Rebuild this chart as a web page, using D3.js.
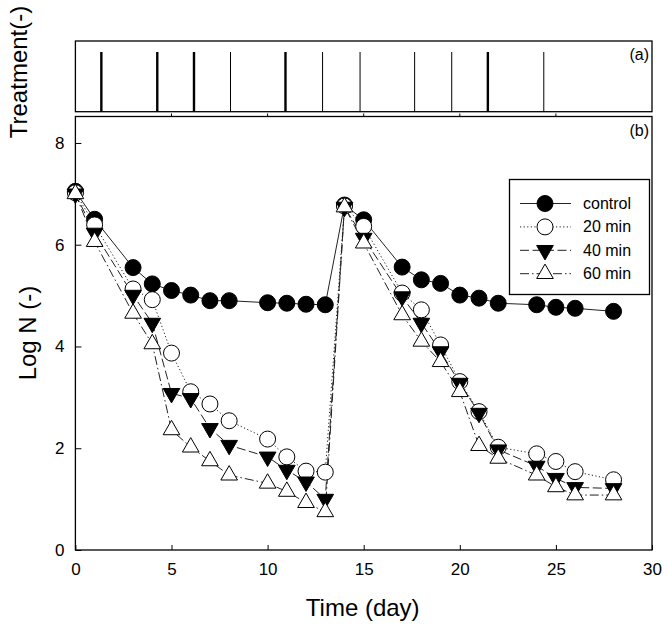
<!DOCTYPE html>
<html><head><meta charset="utf-8">
<script src="https://cdn.jsdelivr.net/npm/d3@7"></script>
<style>body{margin:0;background:#fff}svg{font-family:"Liberation Sans",Arial,sans-serif}</style>
</head><body><svg id="c" width="668" height="631"></svg>
<script>
const days = [0,1,3,4,5,6,7,8,10,11,12,13,14,15,17,18,19,20,21,22,24,25,26,28];
const control = [7.05,6.50,5.55,5.23,5.10,5.01,4.90,4.90,4.86,4.85,4.83,4.82,6.78,6.49,5.56,5.31,5.24,5.01,4.95,4.85,4.82,4.77,4.75,4.69];
const min20 = [7.02,6.39,5.13,4.92,3.87,3.11,2.87,2.54,2.18,1.83,1.55,1.53,6.76,6.36,5.05,4.72,4.03,3.31,2.72,2.02,1.89,1.74,1.54,1.38];
const min40 = [7.00,6.23,5.01,4.46,3.08,2.98,2.39,2.06,1.83,1.57,1.34,1.00,6.74,6.13,4.98,4.46,3.90,3.28,2.69,1.97,1.65,1.41,1.23,1.21];
const min60 = [7.00,6.06,4.65,4.05,2.36,2.02,1.75,1.47,1.31,1.15,0.93,0.75,6.74,6.03,4.62,4.10,3.70,3.11,2.05,1.80,1.47,1.24,1.08,1.08];
const seriesNames = ["control","20 min","40 min","60 min"];
const treatDays = [1.35,4.26,6.17,8.07,10.93,12.86,14.81,17.65,19.58,21.46,24.37];
const treatThick = [1,1,1,0,1,0,0,0,0,1,0];
const xTicks = [0,5,10,15,20,25,30];
const yTicks = [0,2,4,6,8];

const svg = d3.select("#c");
const L = 75.4, R = 652;
const x = d3.scaleLinear().domain([0,30]).range([L,R]);
const y = d3.scaleLinear().domain([0,8.52]).range([550,116.5]);
const topT = 41, topB = 111.7;

// top panel
svg.append("rect").attr("x",L).attr("y",topT).attr("width",R-L).attr("height",topB-topT)
  .attr("fill","none").attr("stroke","#000").attr("stroke-width",1.3);
svg.selectAll("line.tr").data(treatDays).join("line").attr("class","tr")
  .attr("x1",d=>x(d)).attr("x2",d=>x(d)).attr("y1",52).attr("y2",topB)
  .attr("stroke","#000").attr("stroke-width",(d,i)=>treatThick[i]?2.4:1);
svg.append("text").attr("x",649).attr("y",60).attr("text-anchor","end").attr("font-size",16).text("(a)");
svg.append("text").attr("transform","translate(27,72) rotate(-90)").attr("text-anchor","middle").attr("font-size",24).text("Treatment(-)");

// main panel frame
svg.append("rect").attr("x",L).attr("y",y(8.52)).attr("width",R-L).attr("height",550-y(8.52))
  .attr("fill","none").attr("stroke","#000").attr("stroke-width",1.3);
svg.append("text").attr("x",649).attr("y",136).attr("text-anchor","end").attr("font-size",16).text("(b)");

// axes
const xa = svg.append("g").attr("transform","translate(0,550)")
  .call(d3.axisBottom(x).tickValues(xTicks).tickSizeInner(-5).tickSizeOuter(0).tickPadding(13));
xa.select(".domain").remove();
xa.selectAll("text").attr("font-size",17).attr("font-family","Liberation Sans, Arial, sans-serif");
xa.selectAll("line").attr("stroke","#000");
// top ticks of main panel pointing up
svg.selectAll("line.tt").data(xTicks.slice(1,-1)).join("line").attr("class","tt")
  .attr("x1",d=>x(d)).attr("x2",d=>x(d)).attr("y1",y(8.52)).attr("y2",y(8.52)-3).attr("stroke","#000");

const ya = svg.append("g").attr("transform",`translate(${L},0)`)
  .call(d3.axisLeft(y).tickValues(yTicks).tickSizeInner(-6).tickSizeOuter(0).tickPadding(11).tickFormat(d3.format("d")));
ya.select(".domain").remove();
ya.selectAll("text").attr("font-size",17).attr("font-family","Liberation Sans, Arial, sans-serif");
ya.selectAll("line").attr("stroke","#000");

svg.append("text").attr("x",(L+R)/2-1).attr("y",616).attr("text-anchor","middle").attr("font-size",24).text("Time (day)");
svg.append("text").attr("transform","translate(36,333) rotate(-90)").attr("text-anchor","middle").attr("font-size",24).text("Log N (-)");

// series
const dashes = [null,"1.2,2.4","9,3.5","9,3,1.5,3"];
const allSeries = [control,min20,min40,min60];
const line = d3.line().x(d=>x(d[0])).y(d=>y(d[1]));
const triUp = d3.symbol().type(d3.symbolTriangle).size(120);
function marker(g,k){
  if(k===0) return g.append("circle").attr("r",8).attr("fill","#000").attr("stroke","#000");
  if(k===1) return g.append("circle").attr("r",8).attr("fill","#fff").attr("stroke","#000").attr("stroke-width",1);
  if(k===2) return g.append("path").attr("d",triUp()).attr("transform","rotate(180)").attr("fill","#000").attr("stroke","#000");
  return g.append("path").attr("d",triUp()).attr("fill","#fff").attr("stroke","#000").attr("stroke-width",1);
}
allSeries.forEach((vals,k)=>{
  const pts = days.map((d,i)=>[d,vals[i]]);
  svg.append("path").attr("d",line(pts)).attr("fill","none").attr("stroke","#222").attr("stroke-width",1)
    .attr("stroke-dasharray",dashes[k]);
});
allSeries.forEach((vals,k)=>{
  const pts = days.map((d,i)=>[d,vals[i]]);
  const g = svg.append("g");
  pts.forEach(p=>{
    const m = g.append("g").attr("transform",`translate(${x(p[0])},${y(p[1])})`);
    marker(m,k);
  });
});

// legend
const lg = svg.append("g");
lg.append("rect").attr("x",509.5).attr("y",179.5).attr("width",140).attr("height",115)
  .attr("fill","#fff").attr("stroke","#000").attr("stroke-width",1.3);
seriesNames.forEach((n,k)=>{
  const yy = 203.5 + k*23.4;
  lg.append("line").attr("x1",520).attr("x2",571).attr("y1",yy).attr("y2",yy)
    .attr("stroke","#222").attr("stroke-dasharray",dashes[k]);
  marker(lg.append("g").attr("transform",`translate(545,${yy})`),k);
  lg.append("text").attr("x",583).attr("y",yy+5.5).attr("font-size",16).text(n);
});
</script></body></html>
